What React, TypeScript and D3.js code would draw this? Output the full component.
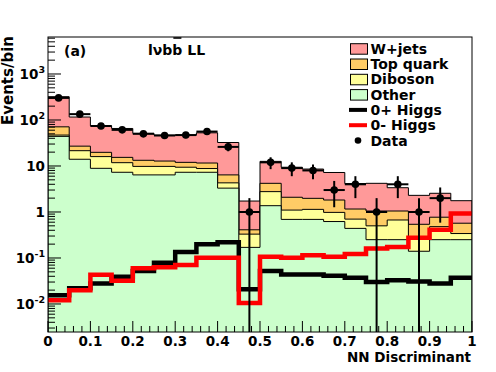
import React, { useEffect, useRef } from 'react'
import * as d3 from 'd3'

// NN discriminant bins, lower edges (width 0.05)
const binLow = [0, 0.05, 0.1, 0.15, 0.2, 0.25, 0.3, 0.35, 0.4, 0.45, 0.5, 0.55, 0.6, 0.65, 0.7, 0.75, 0.8, 0.85, 0.9, 0.95]
const binWidth = 0.05

// background expectation per bin (stacked, bottom to top)
const other = [44, 14, 8.9, 7.3, 6.4, 6.4, 7.3, 7.3, 3.3, 0.17, 1.37, 0.69, 0.69, 0.62, 0.44, 0.25, 0.25, 0.14, 0.25, 0.25]
const diboson = [3, 7.5, 7.1, 4.5, 3.4, 3.4, 2.1, 1.5, 1.0, 0.16, 1.4, 0.41, 0.45, 0.36, 0.26, 0.25, 0.42, 0.15, 0.23, 0.09]
const topQuark = [24, 5.5, 3.8, 3.6, 3.5, 3.0, 2.6, 2.8, 2.1, 0.08, 1.43, 0.99, 0.84, 0.84, 0.46, 0.55, 0.38, 0.25, 0.29, 0.23]
const wjets = [250, 89, 55, 50, 38, 34, 35, 41, 26, 1.32, 8.4, 7.3, 6.6, 5.4, 3.0, 3.15, 2.32, 1.76, 1.78, 1.19]

// signal hypotheses
const higgsPlus = [0.0155, 0.022, 0.028, 0.039, 0.052, 0.079, 0.135, 0.2, 0.22, 0.021, 0.052, 0.044, 0.044, 0.041, 0.037, 0.03, 0.033, 0.031, 0.028, 0.037]
const higgsMinus = [0.012, 0.02, 0.043, 0.032, 0.06, 0.063, 0.07, 0.101, 0.101, 0.0105, 0.107, 0.101, 0.114, 0.107, 0.122, 0.16, 0.174, 0.277, 0.41, 0.93]

// observed events
const dataCounts = [302, 134, 74, 61, 50, 46, 47, 56, 26, 1, 12, 9, 8, 3, 4, 1, 4, 1, 2, 0]

const xTicks = [0, 0.1, 0.2, 0.3, 0.4, 0.5, 0.6, 0.7, 0.8, 0.9, 1]
const xTickLabels = ['0', '0.1', '0.2', '0.3', '0.4', '0.5', '0.6', '0.7', '0.8', '0.9', '1']
const yDecades = [0.01, 0.1, 1, 10, 100, 1000]
const yTickLabels = [['10', '-2'], ['10', '-1'], ['1', ''], ['10', ''], ['10', '2'], ['10', '3']]

const legendLabels = ['W+jets', 'Top quark', 'Diboson', 'Other', '0+ Higgs', '0- Higgs', 'Data']

const colWjets = '#ff9999'
const colTop = '#ffcc66'
const colDiboson = '#ffff99'
const colOther = '#ccffcc'

const FONT = '"DejaVu Sans", sans-serif'

export default function App() {
  const ref = useRef<SVGSVGElement>(null)

  useEffect(() => {
    const svg = d3.select(ref.current)
    svg.selectAll('*').remove()

    const left = 48, right = 472, top = 37, bottom = 332
    const x = d3.scaleLinear().domain([0, 1]).range([left, right])
    const y = d3.scaleLog().domain([0.00246, 6370]).range([bottom, top])

    svg.append('rect').attr('width', 496).attr('height', 372).attr('fill', 'white')

    svg.append('clipPath').attr('id', 'plotclip')
      .append('rect').attr('x', left).attr('y', top).attr('width', right - left).attr('height', bottom - top)

    const g = svg.append('g').attr('clip-path', 'url(#plotclip)')

    // stacked backgrounds
    const rows = binLow.map((lo, i) => ({ lo, other: other[i], diboson: diboson[i], top: topQuark[i], wjets: wjets[i] }))
    const stacked = d3.stack<any>().keys(['other', 'diboson', 'top', 'wjets'])(rows)
    const fills: any = { other: colOther, diboson: colDiboson, top: colTop, wjets: colWjets }

    const stepPts = (vals: number[]) => {
      const pts = binLow.map((lo, i) => ({ x: lo, v: vals[i] }))
      pts.push({ x: 1, v: vals[vals.length - 1] })
      return pts
    }

    const area = d3.area<any>()
      .x(d => x(d.x))
      .y0(bottom + 2)
      .y1(d => y(d.v))
      .curve(d3.curveStepAfter)

    stacked.slice().reverse().forEach(layer => {
      const tops = layer.map(d => d[1])
      g.append('path')
        .datum(stepPts(tops))
        .attr('d', area)
        .attr('fill', fills[layer.key])
        .attr('stroke', 'black')
        .attr('stroke-width', 1)
    })

    // Higgs templates
    const line = d3.line<any>()
      .x(d => x(d.x))
      .y(d => y(d.v))
      .curve(d3.curveStepAfter)

    g.append('path').datum(stepPts(higgsPlus)).attr('d', line)
      .attr('fill', 'none').attr('stroke', 'black').attr('stroke-width', 4.5)
    g.append('path').datum(stepPts(higgsMinus)).attr('d', line)
      .attr('fill', 'none').attr('stroke', '#ff0000').attr('stroke-width', 4.5)

    // data points with errors
    const ymin = y.domain()[0]
    dataCounts.forEach((n, i) => {
      if (n <= 0) return
      const cx = x(binLow[i] + binWidth / 2)
      const err = Math.sqrt(n)
      g.append('line')
        .attr('x1', x(binLow[i])).attr('x2', x(binLow[i] + binWidth))
        .attr('y1', y(n)).attr('y2', y(n))
        .attr('stroke', 'black').attr('stroke-width', 2)
      g.append('line')
        .attr('x1', cx).attr('x2', cx)
        .attr('y1', y(n + err)).attr('y2', y(Math.max(n - err, ymin)))
        .attr('stroke', 'black').attr('stroke-width', 2)
      g.append('circle').attr('cx', cx).attr('cy', y(n)).attr('r', 3.8).attr('fill', 'black')
    })

    // frame
    svg.append('rect').attr('x', left).attr('y', top).attr('width', right - left).attr('height', bottom - top)
      .attr('fill', 'none').attr('stroke', 'black').attr('stroke-width', 1)

    // x ticks
    const xMinor = d3.range(0, 51).map(k => k / 50)
    xMinor.forEach(v => {
      const major = Math.abs(v * 10 - Math.round(v * 10)) < 1e-6
      svg.append('line').attr('x1', x(v)).attr('x2', x(v))
        .attr('y1', bottom).attr('y2', bottom - (major ? 11 : 6))
        .attr('stroke', 'black').attr('stroke-width', 1)
    })
    xTicks.forEach((v, i) => {
      svg.append('text').attr('x', x(v)).attr('y', 346)
        .attr('text-anchor', 'middle')
        .attr('font-family', FONT).attr('font-weight', 'bold').attr('font-size', 13.5)
        .text(xTickLabels[i])
    })

    // y ticks
    const [d0, d1] = y.domain()
    for (let e = -3; e <= 3; e++) {
      for (let m = 1; m <= 9; m++) {
        const v = m * Math.pow(10, e)
        if (v < d0 || v > d1) continue
        svg.append('line').attr('x1', left).attr('x2', left + (m === 1 ? 13 : 7))
          .attr('y1', y(v)).attr('y2', y(v))
          .attr('stroke', 'black').attr('stroke-width', 1)
      }
    }
    yDecades.forEach((v, i) => {
      const t = svg.append('text').attr('x', 45).attr('y', y(v) + 5)
        .attr('text-anchor', 'end')
        .attr('font-family', FONT).attr('font-weight', 'bold').attr('font-size', 13.5)
      t.append('tspan').text(yTickLabels[i][0])
      if (yTickLabels[i][1]) {
        t.append('tspan').attr('dy', -6).attr('font-size', 9.5).text(yTickLabels[i][1])
      }
    })

    // axis titles
    svg.append('text').attr('x', 471).attr('y', 362).attr('text-anchor', 'end')
      .attr('font-family', FONT).attr('font-weight', 'bold').attr('font-size', 13.5)
      .text('NN Discriminant')
    svg.append('text').attr('transform', 'translate(13,36) rotate(-90)').attr('text-anchor', 'end')
      .attr('font-family', FONT).attr('font-weight', 'bold').attr('font-size', 15)
      .text('Events/bin')

    // labels
    svg.append('text').attr('x', 64).attr('y', 56)
      .attr('font-family', FONT).attr('font-weight', 'bold').attr('font-size', 14)
      .text('(a)')
    const chan = svg.append('text').attr('x', 148).attr('y', 55)
      .attr('font-family', FONT).attr('font-weight', 'bold').attr('font-size', 14)
      .text('lνbb LL')
    const node = chan.node() as SVGTextElement
    if (node && node.getNumberOfChars() > 3) {
      const r = node.getExtentOfChar(3)
      svg.append('line').attr('x1', r.x + 1).attr('x2', r.x + r.width - 1)
        .attr('y1', 38).attr('y2', 38).attr('stroke', 'black').attr('stroke-width', 1.6)
    }

    // legend
    const lg = svg.append('g')
    const legendFill = [colWjets, colTop, colDiboson, colOther]
    legendLabels.forEach((lab, i) => {
      const cy = 48.7 + i * 15.3
      if (i < 4) {
        lg.append('rect').attr('x', 350.5).attr('y', cy - 5).attr('width', 17).attr('height', 10.5)
          .attr('fill', legendFill[i]).attr('stroke', 'black').attr('stroke-width', 1)
      } else if (i < 6) {
        lg.append('line').attr('x1', 349).attr('x2', 367).attr('y1', cy).attr('y2', cy)
          .attr('stroke', i === 4 ? 'black' : '#ff0000').attr('stroke-width', 4)
      } else {
        lg.append('circle').attr('cx', 358).attr('cy', cy).attr('r', 3.3).attr('fill', 'black')
      }
      lg.append('text').attr('x', 370.5).attr('y', cy + 5)
        .attr('font-family', FONT).attr('font-weight', 'bold').attr('font-size', 14)
        .text(lab)
    })
  }, [])

  return (
    <svg ref={ref} width={496} height={372}
      style={{ position: 'absolute', left: 0, top: 0, display: 'block' }} />
  )
}
